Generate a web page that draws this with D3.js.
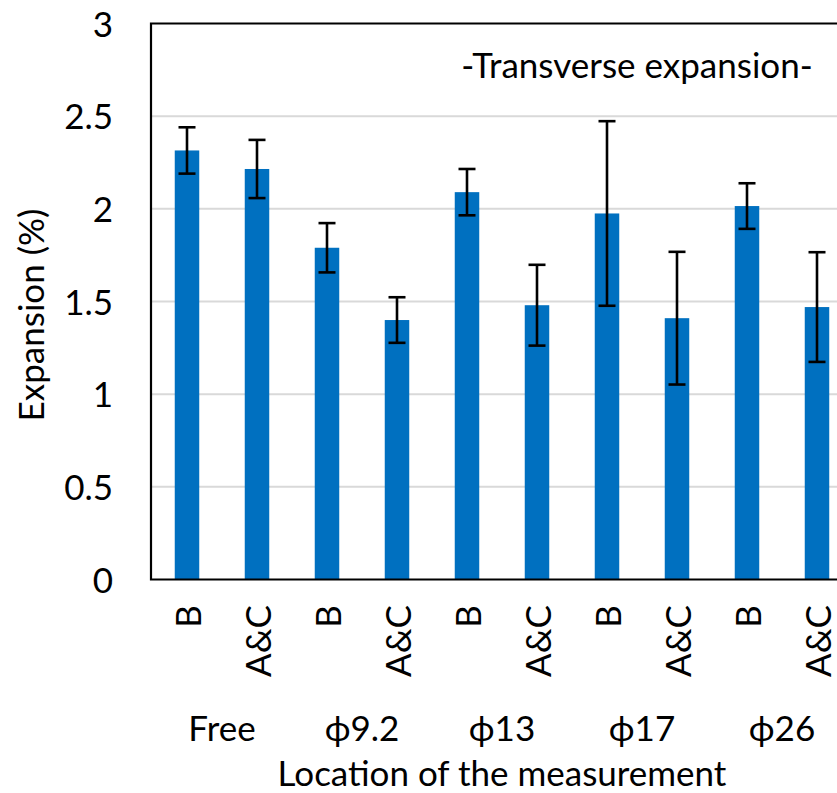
<!DOCTYPE html>
<html>
<head>
<meta charset="utf-8">
<script src="https://cdn.jsdelivr.net/npm/d3@7"></script>
<style>
  html, body { margin: 0; padding: 0; background: #fff; }
  svg { display: block; }
  text { font-family: Lato, "Open Sans", sans-serif; fill: #000; }
</style>
</head>
<body>
<svg id="chart" width="837" height="793"></svg>
<script>
// Measurement locations (groups) and positions within each location
const locations = ["Free", "ϕ9.2", "ϕ13", "ϕ17", "ϕ26"];
const positions = ["B", "A&C"];

// Mean transverse expansion (%) per bar, in location/position order
const expansion = [2.315, 2.215, 1.79, 1.40, 2.09, 1.48, 1.975, 1.41, 2.015, 1.47];
// Error (±) per bar
const errors = [0.125, 0.157, 0.133, 0.123, 0.125, 0.218, 0.498, 0.358, 0.123, 0.296];

const yTicks = [0, 0.5, 1, 1.5, 2, 2.5, 3];

const bars = [];
locations.forEach((loc, i) => {
  positions.forEach((pos, j) => {
    const k = i * positions.length + j;
    bars.push({ id: k, loc, pos, value: expansion[k], err: errors[k] });
  });
});

const svg = d3.select("#chart");
const plot = { left: 152, right: 852, top: 23.5, bottom: 579.5 };
const fontSize = 35;

const x = d3.scaleBand()
  .domain(bars.map(d => d.id))
  .range([plot.left, plot.right])
  .paddingInner(0.65)
  .paddingOuter(0.325);

const y = d3.scaleLinear().domain([0, 3]).range([plot.bottom, plot.top]);

// Horizontal gridlines
svg.append("g")
  .selectAll("line")
  .data(yTicks.filter(t => t > 0 && t < 3))
  .join("line")
  .attr("x1", plot.left).attr("x2", plot.right)
  .attr("y1", d => y(d)).attr("y2", d => y(d))
  .attr("stroke", "#d9d9d9").attr("stroke-width", 2);

// Bars
svg.append("g")
  .selectAll("rect")
  .data(bars)
  .join("rect")
  .attr("x", d => x(d.id))
  .attr("width", x.bandwidth())
  .attr("y", d => y(d.value))
  .attr("height", d => y(0) - y(d.value))
  .attr("fill", "#0070c0");

// Error bars
const capHalf = 8.5;
const eb = svg.append("g").attr("stroke", "#000").attr("stroke-width", 2.6);
bars.forEach(d => {
  const cx = x(d.id) + x.bandwidth() / 2;
  const yHi = y(d.value + d.err), yLo = y(d.value - d.err);
  eb.append("line").attr("x1", cx).attr("x2", cx).attr("y1", yHi).attr("y2", yLo);
  eb.append("line").attr("x1", cx - capHalf).attr("x2", cx + capHalf).attr("y1", yHi).attr("y2", yHi);
  eb.append("line").attr("x1", cx - capHalf).attr("x2", cx + capHalf).attr("y1", yLo).attr("y2", yLo);
});

// Plot frame: left, top and bottom borders
const frame = svg.append("g").attr("stroke", "#000").attr("stroke-width", 2.2).attr("fill", "none");
frame.append("path")
  .attr("d", `M${plot.right},${plot.top}H${plot.left - 1}V${plot.bottom}H${plot.right}`);

// Y axis tick labels
const yAxis = d3.axisLeft(y).tickValues(yTicks).tickSize(0).tickPadding(0)
  .tickFormat(d3.format("~g"));
const gy = svg.append("g").attr("transform", "translate(113,0)").call(yAxis);
gy.select(".domain").remove();
gy.selectAll("text")
  .attr("font-size", fontSize)
  .attr("font-family", "Lato, 'Open Sans', sans-serif")
  .attr("fill", "#000")
  .attr("dy", "0.36em");

// Position labels (rotated) under each bar
svg.append("g")
  .selectAll("text")
  .data(bars)
  .join("text")
  .attr("transform", d => `translate(${x(d.id) + x.bandwidth() / 2 + 1},605) rotate(-90)`)
  .attr("text-anchor", "end")
  .attr("dy", "0.36em")
  .attr("font-size", fontSize)
  .text(d => d.pos);

// Location group labels, centred between each pair of bars
svg.append("g")
  .selectAll("text")
  .data(locations)
  .join("text")
  .attr("x", (d, i) => {
    const a = x(i * 2), b = x(i * 2 + 1) + x.bandwidth();
    return (a + b) / 2;
  })
  .attr("y", 741)
  .attr("text-anchor", "middle")
  .attr("font-size", fontSize)
  .text(d => d);

// Axis titles
svg.append("text")
  .attr("x", (plot.left + plot.right) / 2)
  .attr("y", 786)
  .attr("text-anchor", "middle")
  .attr("font-size", fontSize)
  .text("Location of the measurement");

svg.append("text")
  .attr("transform", "translate(44,315) rotate(-90)")
  .attr("text-anchor", "middle")
  .attr("font-size", fontSize)
  .text("Expansion (%)");

// Chart annotation
svg.append("text")
  .attr("x", 637)
  .attr("y", 78)
  .attr("text-anchor", "middle")
  .attr("font-size", fontSize)
  .text("-Transverse expansion-");
</script>
</body>
</html>
